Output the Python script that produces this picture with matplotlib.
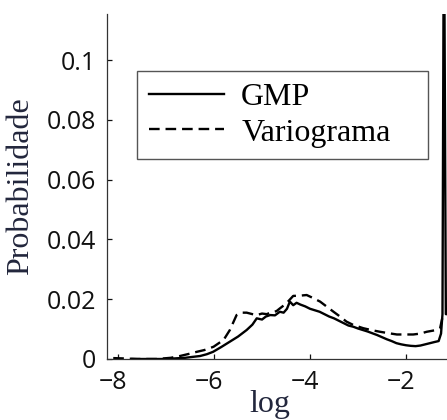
import numpy as np
import matplotlib
matplotlib.use("Agg")
import matplotlib.pyplot as plt
import matplotlib.transforms as mtransforms

# GMP (linha cheia)
gmp_x = [-7.7, -7.3, -7.0, -6.92, -6.6, -6.45, -6.29, -6.15, -6.02, -5.85, -5.67, -5.5,
         -5.32, -5.2, -5.11, -5.0, -4.92, -4.83, -4.73, -4.63, -4.55, -4.48, -4.42,
         -4.35, -4.28, -4.2, -4.1, -4.0, -3.9, -3.8, -3.7, -3.6, -3.5, -3.4, -3.3,
         -3.2, -3.1, -3.0, -2.9, -2.8, -2.7, -2.6, -2.5, -2.4, -2.3, -2.2, -2.1,
         -2.0, -1.9, -1.8, -1.7, -1.6, -1.5, -1.4, -1.32, -1.27, -1.24, -1.21,
         -1.17, -1.1]
gmp_y = [0, 0, 0, 0.0001, 0.0004, 0.0007, 0.0010, 0.0016, 0.0024, 0.0040, 0.0058, 0.0075,
         0.0097, 0.0115, 0.0136, 0.0132, 0.0142, 0.0147, 0.0146, 0.0158, 0.0155, 0.0168,
         0.0192, 0.0180, 0.0188, 0.0182, 0.0176, 0.0168, 0.0163, 0.0158, 0.0150, 0.0142,
         0.0136, 0.0128, 0.0120, 0.0112, 0.0108, 0.0102, 0.0097, 0.0092, 0.0086, 0.0080,
         0.0073, 0.0066, 0.0060, 0.0053, 0.0049, 0.0046, 0.0044, 0.0043, 0.0045, 0.0049,
         0.0053, 0.0057, 0.0060, 0.0085, 0.0150, 0.16, 0.0150, 0.0150]

# Variograma (linha tracejada)
var_x = [-8.1, -7.9, -7.6, -7.2, -6.9, -6.71, -6.5, -6.36, -6.2, -6.01, -5.8, -5.67,
         -5.53, -5.42, -5.32, -5.2, -5.11, -5.0, -4.9, -4.83, -4.7, -4.63, -4.5,
         -4.35, -4.2, -4.07, -3.95, -3.79, -3.65, -3.51, -3.4, -3.24, -3.1, -2.89,
         -2.7, -2.54, -2.35, -2.19, -2.0, -1.85, -1.7, -1.57, -1.4, -1.29, -1.24]
var_y = [0.0003, 0.0002, 0, 0, 0.0004, 0.0010, 0.0018, 0.0024, 0.0030, 0.0041, 0.0064,
         0.0097, 0.0147, 0.0155, 0.0155, 0.0150, 0.0147, 0.0152, 0.0150, 0.0155, 0.0160,
         0.0169, 0.0185, 0.0211, 0.0212, 0.0214, 0.0205, 0.0192, 0.0175, 0.0158, 0.0145,
         0.0125, 0.0114, 0.0103, 0.0096, 0.0091, 0.0086, 0.0082, 0.0082, 0.0082, 0.0085,
         0.0091, 0.0096, 0.0103, 0.0140]

xticks = [-8, -6, -4, -2]
yticks = [0, 0.02, 0.04, 0.06, 0.08, 0.1]
yticklabels = ["0", "0.02", "0.04", "0.06", "0.08", "0.1"]

label_color = "#22263c"
serif = "Liberation Serif"

fig = plt.figure(figsize=(4.47, 4.2), dpi=100)
ax = fig.add_axes([107 / 447, 61 / 420, 347 / 447, 345 / 420])

ax.plot(gmp_x, gmp_y, color="black", lw=1.7, label="GMP")
ax.plot(var_x, var_y, color="black", lw=1.7, dashes=(4.5, 2.5), label="Variograma")

ax.set_xlim(-8.23, -1.0)
ax.set_ylim(0, 0.1154)
ax.set_xticks(xticks)
ax.set_xticklabels([str(t).replace("-", "\u2212") for t in xticks])
ax.set_yticks(yticks)
ax.set_yticklabels(yticklabels)

for s in ["top", "right"]:
    ax.spines[s].set_visible(False)
for s in ["left", "bottom"]:
    ax.spines[s].set_linewidth(0.9)
    ax.spines[s].set_color("#333333")

ax.tick_params(direction="in", length=3.5, width=0.9, pad=8, colors="#111111",
               labelsize=18)
shift = mtransforms.ScaledTranslation(-5 / 100, 0, fig.dpi_scale_trans)
for lab in ax.get_xticklabels():
    lab.set_family("Open Sans")
    lab.set_transform(lab.get_transform() + shift)
for lab in ax.get_yticklabels():
    lab.set_family("Open Sans")

ax.set_ylabel("Probabilidade", family=serif, fontsize=23, color=label_color)
ax.yaxis.set_label_coords(-0.207, 0.5)
ax.set_xlabel("log", family=serif, fontsize=23, color=label_color)
ax.xaxis.set_label_coords(0.47, -0.09)

leg = ax.legend(loc="upper left", bbox_to_anchor=(0.0865, 0.597, 0.8385, 0.238),
                mode="expand", borderaxespad=0, prop={"family": serif, "size": 23},
                handlelength=2.35, handletextpad=0.55, borderpad=0.36,
                labelspacing=0.2, fancybox=False, framealpha=1)
leg.get_frame().set_edgecolor("#555555")
leg.get_frame().set_linewidth(1.0)

fig.savefig("out.png", dpi=100)
